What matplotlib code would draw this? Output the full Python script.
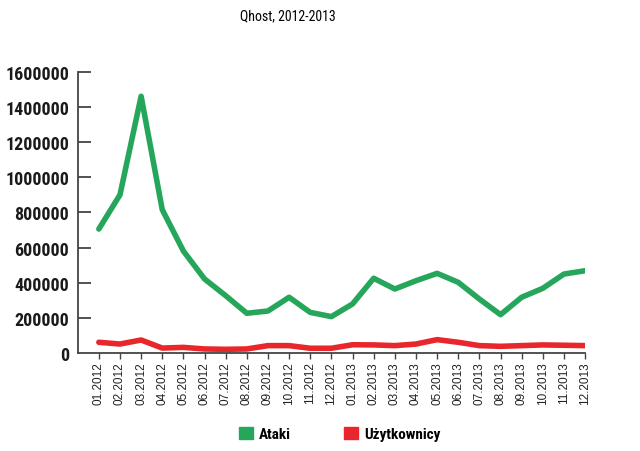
import matplotlib
matplotlib.use("Agg")
import matplotlib.pyplot as plt
from matplotlib import font_manager
from matplotlib.patches import Patch

# data
months = ["01.2012", "02.2012", "03.2012", "04.2012", "05.2012", "06.2012",
          "07.2012", "08.2012", "09.2012", "10.2012", "11.2012", "12.2012",
          "01.2013", "02.2013", "03.2013", "04.2013", "05.2013", "06.2013",
          "07.2013", "08.2013", "09.2013", "10.2013", "11.2013", "12.2013"]
ataki = [705000, 900000, 1460000, 815000, 580000, 421000,
         326000, 226000, 239000, 317000, 231000, 207000,
         279000, 425000, 364000, 411000, 453000, 402000,
         307000, 218000, 317000, 368000, 449000, 468000]
uzytkownicy = [61000, 51000, 74000, 28000, 32000, 23000,
               21000, 23000, 42000, 42000, 27000, 27000,
               47000, 46000, 42000, 51000, 76000, 61000,
               42000, 38000, 42000, 46000, 44000, 42000]
yticks = [0, 200000, 400000, 600000, 800000, 1000000, 1200000, 1400000, 1600000]

installed = {f.name for f in font_manager.fontManager.ttflist}
def pick(*names):
    for n in names:
        if n in installed:
            return n
    return "DejaVu Sans"

narrow = pick("Liberation Sans Narrow", "Roboto Condensed", "DejaVu Sans Condensed", "Roboto")
arial = pick("Liberation Sans", "Arial", "DejaVu Sans")

green = "#26a65b"
red = "#e8262b"

fig = plt.figure(figsize=(6.4, 4.52), dpi=100)
ax = fig.add_axes([0.1214, 0.2168, 0.7928, 0.6224])

x = range(len(months))
ax.plot(x, ataki, color=green, lw=4, solid_joinstyle="round", solid_capstyle="round")
ax.plot(x, uzytkownicy, color=red, lw=4, solid_joinstyle="round", solid_capstyle="round")

ax.set_xlim(-1, len(months) - 1)
ax.set_ylim(0, 1600000)
ax.set_xticks(list(x))
ax.set_xticklabels(months, rotation=90, fontsize=8.5, family=arial, color="#222222")
ax.set_yticks(yticks)
ax.set_yticklabels([str(v) for v in yticks], fontsize=13, fontweight="bold",
                   family=narrow, color="#1a1a1a")

for s in ["top", "right"]:
    ax.spines[s].set_visible(False)
for s in ["left", "bottom"]:
    ax.spines[s].set_color("#444444")
    ax.spines[s].set_linewidth(1.3)
ax.tick_params(axis="y", direction="in", length=9, width=1.3, color="#444444", pad=6)
ax.tick_params(axis="x", direction="out", length=4, width=1, color="#444444", pad=2)
ax.yaxis.get_major_ticks()[0].tick1line.set_visible(False)

fig.text(0.45, 0.965, "Qhost, 2012-2013", ha="center", va="center",
         fontsize=10, family=narrow)

handles = [Patch(color=green, label="Ataki"), Patch(color=red, label="Użytkownicy")]
fig.legend(handles=handles, loc="center", bbox_to_anchor=(0.531, 0.038), ncol=2,
           frameon=False, handlelength=0.9, handleheight=0.9, handletextpad=0.4,
           columnspacing=3.5, prop={"family": narrow, "weight": "bold", "size": 11})

fig.savefig("out.png", dpi=100, facecolor="white")
